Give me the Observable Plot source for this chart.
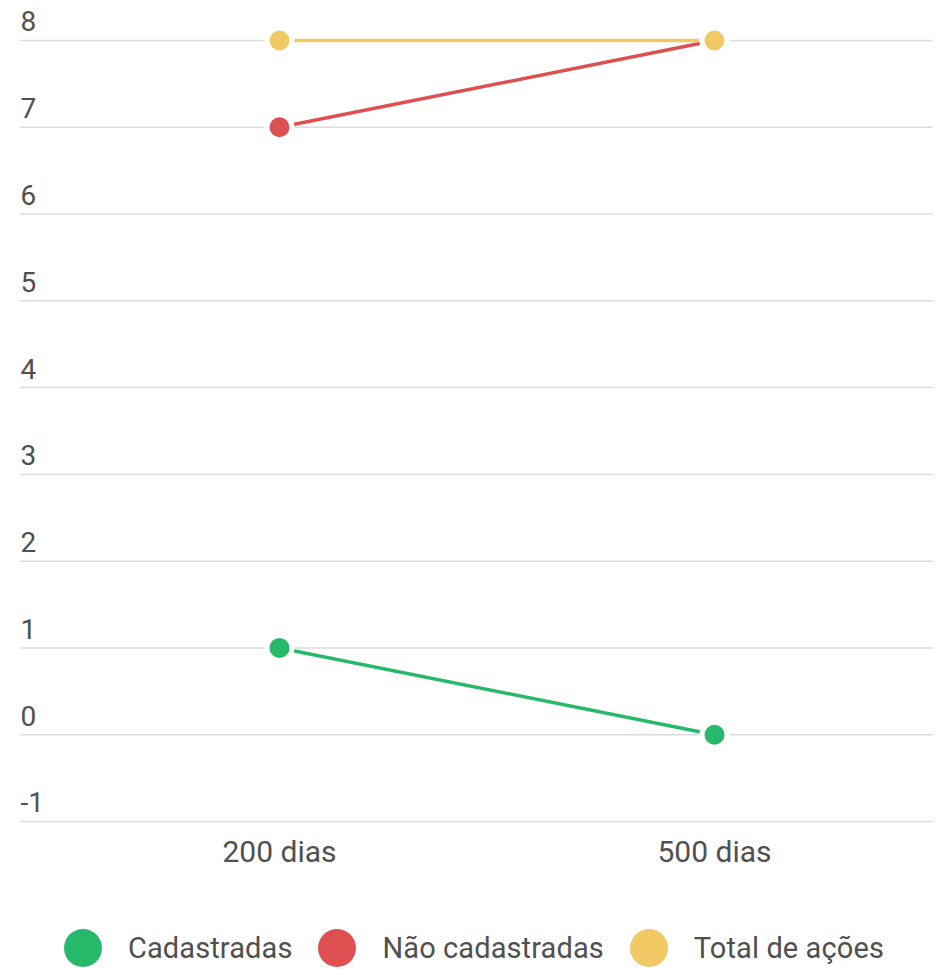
<!DOCTYPE html>
<html>
<head>
<meta charset="utf-8">
<script src="https://cdn.jsdelivr.net/npm/d3@7"></script>
<script src="https://cdn.jsdelivr.net/npm/@observablehq/plot@0.6"></script>
<style>
  html, body { margin: 0; padding: 0; background: #fff; }
  body { width: 938px; height: 969px; position: relative; font-family: Roboto, sans-serif; }
  #legend { position: absolute; left: 0; top: 929px; height: 38px; display: flex; align-items: center; padding-left: 64px; font-size: 29px; letter-spacing: 0.1px; color: #505050; }
  .item { display: flex; align-items: center; margin-right: 26px; }
  .sw { width: 38px; height: 38px; border-radius: 50%; margin-right: 26px; }
</style>
</head>
<body>
<div id="chart"></div>
<div id="legend"></div>
<script>
const categories = ["200 dias", "500 dias"];
const seriesNames = ["Cadastradas", "Não cadastradas", "Total de ações"];
const cadastradas = [1, 0];
const naoCadastradas = [7, 8];
const totalAcoes = [8, 8];
const yTicks = [-1, 0, 1, 2, 3, 4, 5, 6, 7, 8];
const colors = ["#27b96a", "#de4f51", "#f0c965"];

const seriesValues = [cadastradas, naoCadastradas, totalAcoes];
const data = seriesNames.flatMap((s, i) =>
  categories.map((c, j) => ({series: s, cat: c, value: seriesValues[i][j]}))
);

const plot = Plot.plot({
  width: 938,
  height: 890,
  marginTop: 40,
  marginBottom: 69,
  marginLeft: 61.5,
  marginRight: 6.5,
  style: {fontFamily: "Roboto, sans-serif", fontSize: "28px", color: "#505050", background: "#fff"},
  x: {type: "point", domain: categories, padding: 0.5},
  y: {domain: [-1, 8]},
  color: {domain: seriesNames, range: colors},
  marks: [
    Plot.ruleY(yTicks, {stroke: "#dcdcdc", strokeWidth: 1.5, insetLeft: -41.5, insetRight: -1.5}),
    Plot.axisY(yTicks, {tickSize: 0, tickPadding: 0, textAnchor: "start", dx: -41.5, dy: -18, fill: "#505050", label: null, tickFormat: d => String(d), fontSize: 28}),
    Plot.axisX({tickSize: 0, tickPadding: 19, fill: "#505050", label: null, fontSize: 30, tickFormat: d => d}),
    Plot.line(data, {x: "cat", y: "value", z: "series", stroke: "series", strokeWidth: 3.5}),
    Plot.dot(data, {x: "cat", y: "value", fill: "series", r: 12.5, stroke: "#fff", strokeWidth: 5})
  ]
});
document.getElementById("chart").appendChild(plot);

const legend = document.getElementById("legend");
seriesNames.forEach((s, i) => {
  const item = document.createElement("div");
  item.className = "item";
  const sw = document.createElement("div");
  sw.className = "sw";
  sw.style.background = colors[i];
  const t = document.createElement("span");
  t.textContent = s;
  item.appendChild(sw);
  item.appendChild(t);
  legend.appendChild(item);
});
</script>
</body>
</html>
